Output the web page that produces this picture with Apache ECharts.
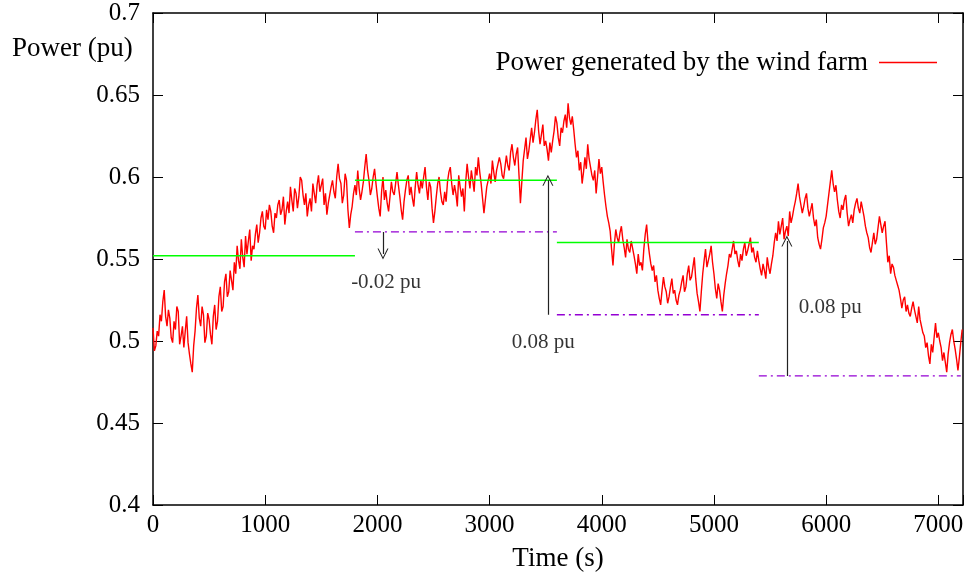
<!DOCTYPE html>
<html>
<head>
<meta charset="utf-8">
<script src="https://cdn.jsdelivr.net/npm/echarts@6/dist/echarts.min.js"></script>
<style>
  html, body { margin: 0; padding: 0; background: #fff; }
  #chart { width: 976px; height: 573px; }
</style>
</head>
<body>
<div id="chart"></div>
<script>
// sampling step of the wind farm record (s)
const step = 12.5;
// power generated by the wind farm (pu), one value every 12.5 s from t = 0
const power = [
  0.508, 0.494, 0.497, 0.506, 0.503, 0.516, 0.512, 0.524, 0.531, 0.515, 0.509, 0.519, 0.514, 0.502, 0.499, 0.512,
  0.507, 0.521, 0.518, 0.498, 0.503, 0.509, 0.496, 0.506, 0.515, 0.499, 0.492, 0.486, 0.481, 0.497, 0.506, 0.520,
  0.528, 0.514, 0.509, 0.521, 0.516, 0.499, 0.503, 0.517, 0.513, 0.504, 0.498, 0.515, 0.522, 0.507, 0.512, 0.527,
  0.533, 0.518, 0.521, 0.536, 0.541, 0.527, 0.530, 0.543, 0.537, 0.531, 0.548, 0.541, 0.558, 0.549, 0.544, 0.562,
  0.551, 0.545, 0.564, 0.553, 0.561, 0.568, 0.549, 0.558, 0.556, 0.565, 0.571, 0.560, 0.566, 0.575, 0.579, 0.570,
  0.568, 0.580, 0.574, 0.583, 0.579, 0.570, 0.566, 0.578, 0.575, 0.583, 0.586, 0.577, 0.580, 0.588, 0.571, 0.579,
  0.585, 0.578, 0.594, 0.586, 0.579, 0.593, 0.590, 0.581, 0.588, 0.600, 0.598, 0.589, 0.583, 0.590, 0.576, 0.583,
  0.587, 0.579, 0.596, 0.590, 0.584, 0.595, 0.601, 0.591, 0.592, 0.599, 0.583, 0.590, 0.577, 0.584, 0.589, 0.594,
  0.598, 0.591, 0.587, 0.600, 0.608, 0.599, 0.596, 0.584, 0.589, 0.602, 0.598, 0.580, 0.569, 0.577, 0.582, 0.590,
  0.595, 0.589, 0.604, 0.593, 0.586, 0.591, 0.597, 0.606, 0.614, 0.604, 0.598, 0.589, 0.593, 0.600, 0.605, 0.596,
  0.588, 0.581, 0.576, 0.591, 0.600, 0.586, 0.592, 0.584, 0.579, 0.588, 0.597, 0.591, 0.589, 0.596, 0.603, 0.595,
  0.588, 0.580, 0.574, 0.585, 0.592, 0.598, 0.601, 0.589, 0.594, 0.587, 0.582, 0.594, 0.603, 0.595, 0.590, 0.598,
  0.593, 0.600, 0.606, 0.594, 0.586, 0.597, 0.594, 0.581, 0.572, 0.579, 0.588, 0.596, 0.600, 0.591, 0.585, 0.583,
  0.591, 0.585, 0.597, 0.603, 0.606, 0.596, 0.589, 0.595, 0.590, 0.582, 0.601, 0.594, 0.588, 0.593, 0.579, 0.597,
  0.608, 0.600, 0.593, 0.604, 0.598, 0.591, 0.606, 0.601, 0.612, 0.603, 0.596, 0.587, 0.578, 0.586, 0.594, 0.598,
  0.602, 0.596, 0.610, 0.603, 0.597, 0.604, 0.605, 0.612, 0.608, 0.601, 0.599, 0.606, 0.613, 0.607, 0.604, 0.615,
  0.620, 0.612, 0.607, 0.614, 0.618, 0.601, 0.584, 0.597, 0.610, 0.617, 0.624, 0.611, 0.616, 0.623, 0.630, 0.621,
  0.627, 0.635, 0.641, 0.628, 0.620, 0.626, 0.632, 0.619, 0.622, 0.617, 0.610, 0.621, 0.615, 0.622, 0.628, 0.637,
  0.633, 0.624, 0.619, 0.630, 0.627, 0.634, 0.638, 0.630, 0.645, 0.636, 0.632, 0.637, 0.629, 0.620, 0.612, 0.616,
  0.604, 0.609, 0.596, 0.603, 0.612, 0.605, 0.620, 0.611, 0.606, 0.601, 0.598, 0.604, 0.590, 0.600, 0.611, 0.602,
  0.606, 0.597, 0.589, 0.582, 0.576, 0.572, 0.567, 0.556, 0.546, 0.559, 0.568, 0.563, 0.560, 0.566, 0.570, 0.562,
  0.557, 0.551, 0.562, 0.556, 0.554, 0.561, 0.560, 0.552, 0.547, 0.541, 0.553, 0.546, 0.548, 0.543, 0.556, 0.565,
  0.571, 0.560, 0.553, 0.547, 0.543, 0.546, 0.536, 0.540, 0.531, 0.526, 0.522, 0.531, 0.539, 0.533, 0.530, 0.523,
  0.527, 0.533, 0.538, 0.529, 0.531, 0.525, 0.522, 0.528, 0.531, 0.536, 0.540, 0.530, 0.533, 0.541, 0.546, 0.537,
  0.539, 0.545, 0.551, 0.538, 0.529, 0.524, 0.518, 0.530, 0.541, 0.549, 0.556, 0.545, 0.549, 0.553, 0.558, 0.548,
  0.541, 0.532, 0.526, 0.535, 0.531, 0.524, 0.518, 0.528, 0.535, 0.541, 0.546, 0.553, 0.551, 0.556, 0.561, 0.553,
  0.555, 0.549, 0.545, 0.553, 0.549, 0.556, 0.560, 0.552, 0.555, 0.559, 0.563, 0.554, 0.557, 0.551, 0.548, 0.555,
  0.549, 0.544, 0.540, 0.547, 0.543, 0.538, 0.551, 0.545, 0.541, 0.547, 0.552, 0.560, 0.566, 0.561, 0.573, 0.565,
  0.570, 0.575, 0.562, 0.567, 0.570, 0.564, 0.579, 0.572, 0.576, 0.581, 0.585, 0.590, 0.596, 0.588, 0.583, 0.578,
  0.582, 0.587, 0.590, 0.581, 0.576, 0.580, 0.584, 0.575, 0.570, 0.574, 0.563, 0.559, 0.556, 0.562, 0.569, 0.572,
  0.576, 0.583, 0.590, 0.597, 0.604, 0.596, 0.591, 0.595, 0.586, 0.579, 0.575, 0.583, 0.580, 0.586, 0.589, 0.578,
  0.570, 0.574, 0.577, 0.572, 0.580, 0.584, 0.587, 0.581, 0.578, 0.585, 0.584, 0.576, 0.570, 0.566, 0.563, 0.557,
  0.554, 0.560, 0.566, 0.559, 0.562, 0.569, 0.576, 0.571, 0.566, 0.570, 0.573, 0.560, 0.548, 0.552, 0.541, 0.547,
  0.545, 0.540, 0.537, 0.534, 0.531, 0.526, 0.520, 0.525, 0.527, 0.518, 0.522, 0.517, 0.515, 0.520, 0.524, 0.519,
  0.515, 0.511, 0.521, 0.513, 0.509, 0.505, 0.503, 0.496, 0.499, 0.491, 0.486, 0.498, 0.493, 0.502, 0.511, 0.502,
  0.505, 0.500, 0.496, 0.488, 0.493, 0.487, 0.481, 0.492, 0.499, 0.504, 0.507, 0.500, 0.495, 0.489, 0.482, 0.490,
  0.499, 0.507
];

// 30 min windows
const windowEdges = [0, 1800, 3600, 5400, 7200];
const meanLevels = [0.552, 0.598, 0.560];        // green, windows 1..3
const minLevels = [0.5665, 0.516, 0.4787];       // purple, windows 2..4

// variation arrows
const arrowTimes = [2050, 3520, 5650];
const arrowFrom = [0.5665, 0.516, 0.4787];
const arrowTo = [0.553, 0.598, 0.561];
const arrowTexts = ['-0.02 pu', '0.08 pu', '0.08 pu'];
const textTimes = [2078, 3478, 6037];
const textLevels = [0.5354, 0.4988, 0.5207];

const xTicks = [0, 1000, 2000, 3000, 4000, 5000, 6000, 7000];

const serif = '"Liberation Serif", "DejaVu Serif", serif';

const chart = echarts.init(document.getElementById('chart'));

const meanSeries = meanLevels.map((v, i) => ({
  type: 'line',
  data: [[windowEdges[i], v], [windowEdges[i + 1], v]],
  symbol: 'none',
  lineStyle: { color: '#00ff00', width: 1.5 },
  silent: true,
  z: 3
}));

const minSeries = minLevels.map((v, i) => ({
  type: 'line',
  data: [[windowEdges[i + 1], v], [windowEdges[i + 2], v]],
  symbol: 'none',
  lineStyle: { color: '#9400d3', width: 1.3, type: [8, 4, 2, 4] },
  silent: true,
  z: 3
}));

const arrowHead = 'path://M5,0 L10,12 L9,12 L5,2.5 L1,12 L0,12 Z';

const frameAxis = {
  axisLine: { onZero: false, lineStyle: { color: '#000', width: 1.5 } },
  axisTick: { inside: true, length: 10, lineStyle: { color: '#000' } },
  splitLine: { show: false }
};

option = {
  animation: false,
  backgroundColor: '#fff',
  textStyle: { fontFamily: serif, color: '#000' },
  grid: {
    left: 153, right: 13, top: 13, bottom: 68,
    containLabel: false, outerBoundsMode: 'none'
  },
  legend: {
    data: ['Power generated by the wind farm'],
    right: 34,
    top: 44,
    align: 'right',
    icon: 'rect',
    itemWidth: 58,
    itemHeight: 1.5,
    itemGap: 0,
    textStyle: { fontFamily: serif, fontSize: 27, color: '#000', padding: [0, 6, 0, 0] }
  },
  xAxis: [
    Object.assign({
      type: 'value', min: 0, max: 7220, interval: 1000,
      name: 'Time (s)', nameLocation: 'middle', nameGap: 40,
      nameTextStyle: { fontFamily: serif, fontSize: 27, color: '#000' },
      axisLabel: {
        fontFamily: serif, fontSize: 25, color: '#000', margin: 8,
        formatter: v => (xTicks.includes(v) ? String(v) : '')
      }
    }, frameAxis),
    Object.assign({
      type: 'value', min: 0, max: 7220, interval: 1000, position: 'top',
      axisLabel: { show: false }
    }, frameAxis)
  ],
  yAxis: [
    Object.assign({
      type: 'value', min: 0.4, max: 0.7, interval: 0.05,
      axisLabel: { fontFamily: serif, fontSize: 25, color: '#000', margin: 13 }
    }, frameAxis),
    Object.assign({
      type: 'value', min: 0.4, max: 0.7, interval: 0.05, position: 'right',
      axisLabel: { show: false }
    }, frameAxis)
  ],
  graphic: [
    {
      type: 'text', left: 12, top: 35,
      style: { text: 'Power (pu)', font: '27px ' + serif, fill: '#000' }
    }
  ],
  series: [
    {
      name: 'Power generated by the wind farm',
      type: 'line',
      data: power.map((v, i) => [i * step, v]),
      symbol: 'none',
      lineStyle: { color: '#ff0000', width: 1.4 },
      itemStyle: { color: '#ff0000' },
      z: 2
    },
    ...meanSeries,
    ...minSeries,
    {
      type: 'lines',
      coordinateSystem: 'cartesian2d',
      data: arrowTimes.map((t, i) => ({ coords: [[t, arrowFrom[i]], [t, arrowTo[i]]] })),
      symbol: ['none', arrowHead],
      symbolSize: [9, 11],
      lineStyle: { color: '#222', width: 1.2, opacity: 1 },
      silent: true,
      z: 4
    },
    {
      type: 'scatter',
      data: textTimes.map((t, i) => ({ value: [t, textLevels[i]], label: { formatter: arrowTexts[i] } })),
      symbolSize: 0,
      label: {
        show: true, position: 'inside',
        fontFamily: serif, fontSize: 21, color: '#000'
      },
      silent: true,
      z: 5
    }
  ]
};

chart.setOption(option);
</script>
</body>
</html>
